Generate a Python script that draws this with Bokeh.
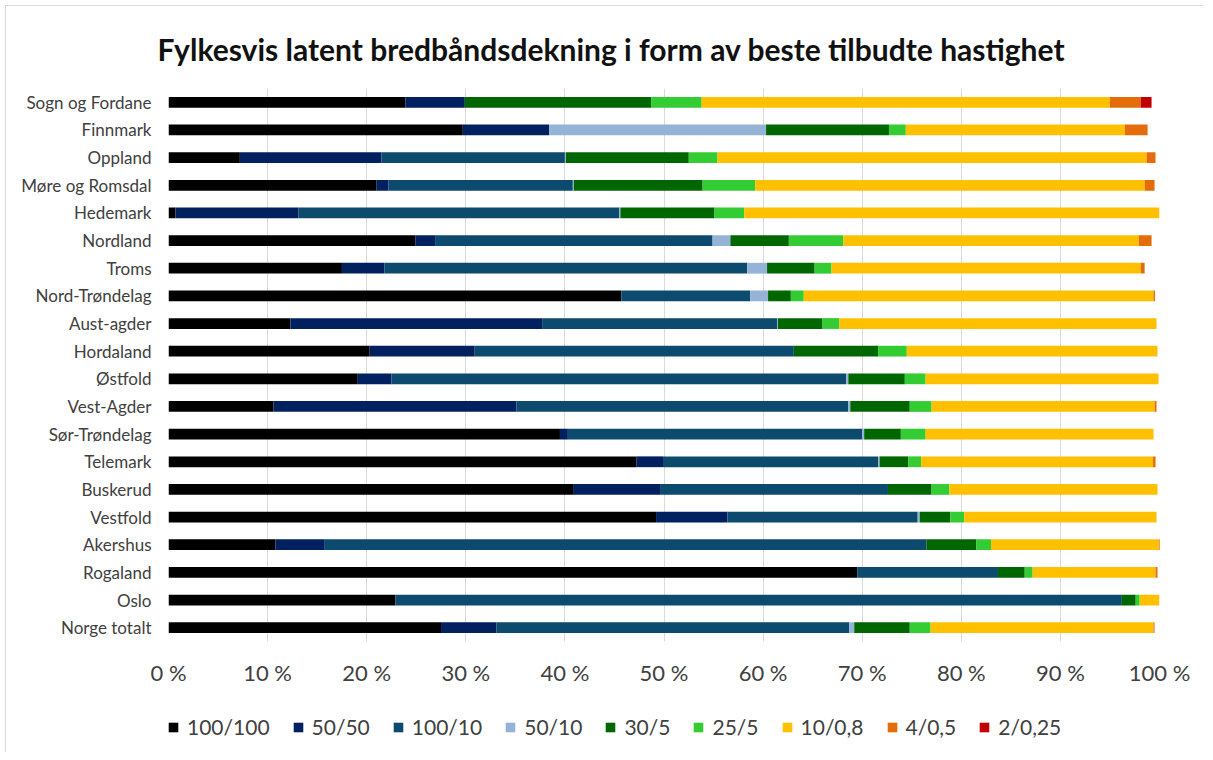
from bokeh.plotting import figure
from bokeh.layouts import column
from bokeh.models import ColumnDataSource, FactorRange, Range1d, FixedTicker, Legend, LegendItem, Title
from bokeh.embed import file_html
from bokeh.resources import INLINE

categories = ["Sogn og Fordane", "Finnmark", "Oppland", "Møre og Romsdal", "Hedemark",
              "Nordland", "Troms", "Nord-Trøndelag", "Aust-agder", "Hordaland",
              "Østfold", "Vest-Agder", "Sør-Trøndelag", "Telemark", "Buskerud",
              "Vestfold", "Akershus", "Rogaland", "Oslo", "Norge totalt"]

series_names = ["100/100", "50/50", "100/10", "50/10", "30/5", "25/5", "10/0,8", "4/0,5", "2/0,25"]
series_colors = ["#000000", "#002060", "#0C4A6E", "#95B3D7", "#006600", "#33CC33", "#FFC000", "#E46C0A", "#C00000"]

s_100_100 = [23.9, 29.7, 7.2, 21.0, 0.7, 24.9, 17.5, 45.7, 12.3, 20.3, 19.1, 10.6, 39.5, 47.2, 40.9, 49.2, 10.8, 69.5, 22.9, 27.5]
s_50_50   = [6.0, 8.7, 14.3, 1.2, 12.4, 2.0, 4.3, 0.0, 25.4, 10.6, 3.4, 24.5, 0.8, 2.7, 8.7, 7.2, 4.9, 0.0, 0.0, 5.6]
s_100_10  = [0.0, 0.0, 18.5, 18.6, 32.4, 28.0, 36.6, 13.0, 23.7, 32.2, 45.9, 33.5, 29.7, 21.7, 23.0, 19.2, 60.8, 14.2, 73.3, 35.6]
s_50_10   = [0.0, 21.9, 0.1, 0.1, 0.1, 1.8, 2.0, 1.8, 0.1, 0.0, 0.2, 0.2, 0.2, 0.15, 0.0, 0.2, 0.0, 0.0, 0.0, 0.5]
s_30_5    = [18.8, 12.4, 12.4, 13.0, 9.5, 5.9, 4.8, 2.3, 4.5, 8.5, 5.7, 6.0, 3.7, 2.9, 4.4, 3.1, 5.0, 2.7, 1.4, 5.6]
s_25_5    = [5.1, 1.7, 2.9, 5.3, 3.0, 5.5, 1.7, 1.3, 1.7, 2.9, 2.1, 2.2, 2.5, 1.3, 1.8, 1.4, 1.5, 0.8, 0.4, 2.1]
s_10_08   = [41.2, 22.1, 43.3, 39.3, 41.9, 29.8, 31.2, 35.3, 32.0, 25.3, 23.5, 22.5, 23.0, 23.4, 21.0, 19.4, 17.1, 12.4, 2.0, 22.5]
s_4_05    = [3.1, 2.3, 0.9, 1.0, 0.0, 1.3, 0.4, 0.15, 0.0, 0.0, 0.0, 0.2, 0.0, 0.25, 0.0, 0.0, 0.1, 0.2, 0.0, 0.1]
s_2_025   = [1.1, 0.0, 0.0, 0.0, 0.0, 0.0, 0.0, 0.0, 0.0, 0.0, 0.0, 0.0, 0.0, 0.0, 0.0, 0.0, 0.0, 0.0, 0.0, 0.0]

x_ticks = [0, 10, 20, 30, 40, 50, 60, 70, 80, 90, 100]
x_tick_labels = ["0 %", "10 %", "20 %", "30 %", "40 %", "50 %", "60 %", "70 %", "80 %", "90 %", "100 %"]

title_text = "Fylkesvis latent bredbåndsdekning  i form av beste tilbudte hastighet"

keys = ["s0", "s1", "s2", "s3", "s4", "s5", "s6", "s7", "s8"]
data = dict(cat=categories)
for k, arr in zip(keys, [s_100_100, s_50_50, s_100_10, s_50_10, s_30_5, s_25_5, s_10_08, s_4_05, s_2_025]):
    data[k] = arr
source = ColumnDataSource(data)

FONT = "Lato"
TXT = "#404040"
W = 1197

p = figure(width=W, height=690, output_backend="svg", toolbar_location=None,
           y_range=FactorRange(factors=list(reversed(categories))),
           x_range=Range1d(0, 100),
           min_border_left=162, min_border_right=44, min_border_top=81, min_border_bottom=55)

t = Title(text=title_text, align="left", offset=-11, standoff=44,
          text_font=FONT, text_font_size="30px", text_font_style="bold", text_color="#111111")
p.add_layout(t, "above")

renderers = p.hbar_stack(keys, y="cat", height=0.39, source=source,
                         color=series_colors, line_color=None)

p.xaxis.ticker = FixedTicker(ticks=x_ticks)
p.xaxis.major_label_overrides = {tv: tl for tv, tl in zip(x_ticks, x_tick_labels)}
p.xaxis.axis_line_color = None
p.xaxis.major_tick_line_color = None
p.xaxis.minor_tick_line_color = None
p.xaxis.major_label_standoff = 11
p.xaxis.major_label_text_font = FONT
p.xaxis.major_label_text_font_size = "22px"
p.xaxis.major_label_text_color = TXT

p.yaxis.axis_line_color = None
p.yaxis.major_tick_line_color = None
p.yaxis.minor_tick_line_color = None
p.yaxis.major_label_standoff = 11
p.yaxis.major_label_text_font = FONT
p.yaxis.major_label_text_font_size = "17px"
p.yaxis.major_label_text_color = TXT

p.xgrid.grid_line_color = "#d9d9d9"
p.ygrid.grid_line_color = None
p.outline_line_color = None

# legend strip below the chart (its renderers only carry the swatch styles)
p2 = figure(width=W, height=56, output_backend="svg", toolbar_location=None,
            x_range=Range1d(0, 1), y_range=Range1d(0, 1),
            min_border_left=0, min_border_right=0, min_border_top=0, min_border_bottom=0)
p2.axis.visible = False
p2.grid.visible = False
p2.outline_line_color = None
leg_renderers = [p2.hbar(y=[-5], right=[0], height=0.5, color=c, line_color=None) for c in series_colors]
items = [LegendItem(label=n, renderers=[r]) for n, r in zip(series_names, leg_renderers)]
legend = Legend(items=items, orientation="horizontal", location=(-1, 13),
                glyph_width=12, glyph_height=12, label_standoff=8, spacing=22,
                label_text_font=FONT, label_text_font_size="21px", label_text_color=TXT,
                border_line_color=None, background_fill_alpha=0, padding=2, margin=0)
p2.add_layout(legend, "center")

layout = column(p, p2, spacing=0)
layout.styles = {"margin": "5px 0 0 5px", "border-top": "1px solid #d9d9d9", "border-left": "1px solid #d9d9d9"}

open("out.html", "w").write(file_html(layout, INLINE))
